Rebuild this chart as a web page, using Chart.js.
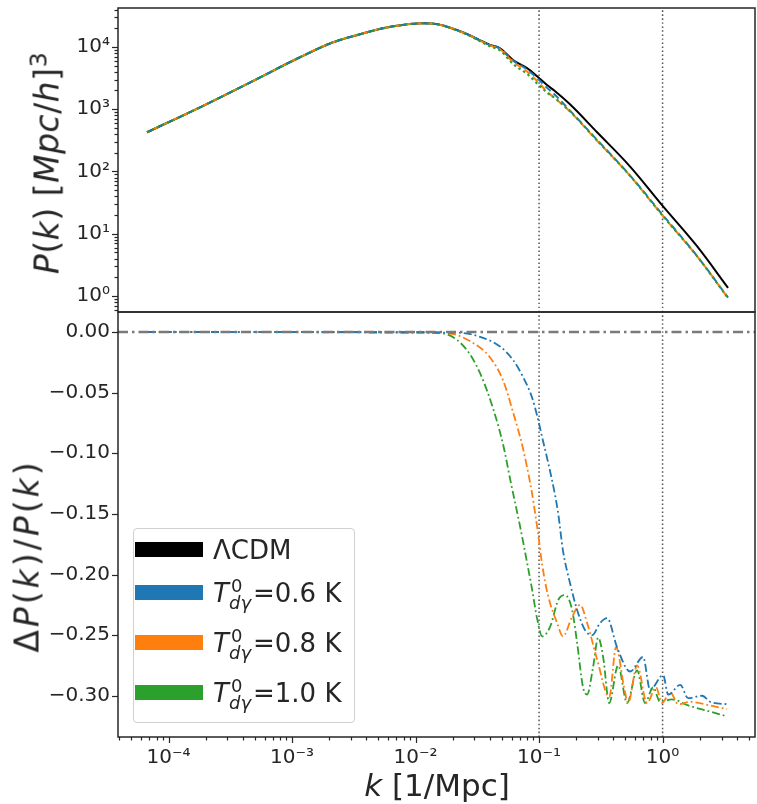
<!DOCTYPE html>
<html>
<head>
<meta charset="utf-8">
<title>P(k) and relative difference</title>
<script src="https://cdn.jsdelivr.net/npm/chart.js@4.4.1/dist/chart.umd.min.js"></script>
<style>
  body { margin: 0; background: #fff; }
  #fig { position: relative; width: 757px; height: 804px; overflow: hidden; font-family: "DejaVu Sans", sans-serif; color: #262626; }
  #fig canvas { position: absolute; left: 0; top: 0; }
  .t { position: absolute; white-space: nowrap; line-height: 1; }
  .rot { transform: translate(-50%, -50%) rotate(-90deg); }
  sup { font-size: 0.72em; line-height: 0; vertical-align: 0.5em; }
  #legend { position: absolute; left: 133px; top: 528px; width: 220px; height: 193px; border: 1px solid #d0d0d0; border-radius: 4px; background: rgba(255,255,255,0.8); z-index: 2; }
  .sw { position: absolute; left: 1px; width: 68px; height: 15px; }
</style>
</head>
<body>
<div id="fig">
  <canvas id="top" width="757" height="804"></canvas>
  <canvas id="bot" width="757" height="804"></canvas>
  <div class="t rot" style="left:47px; top:163px; font-size:33px; letter-spacing:0.5px;"><i>P</i>(<i>k</i>) [<i>Mpc</i>/<i>h</i>]<sup>3</sup></div>
  <div class="t rot" style="left:27px; top:556px; font-size:33px; letter-spacing:3px;">Δ<i>P</i>(<i>k</i>)/<i>P</i>(<i>k</i>)</div>
  <div class="t" style="left:437px; top:770px; font-size:31px; transform: translateX(-50%);"><i>k</i> [1/Mpc]</div>
  <div id="legend"></div>
</div>
<script>
// wavenumbers (1/Mpc) and power spectra for the top panel
const kTop = [6.7e-5, 1.8e-4, 4.6e-4, 1.16e-3, 2.15e-3, 4.05e-3, 5.2e-3, 7.5e-3, 0.0113, 0.015, 0.018, 0.0252,
  0.0333, 0.0401, 0.0483, 0.0615, 0.0799, 0.0963, 0.116, 0.135, 0.178, 0.295, 0.546, 1.01, 1.90, 3.39];
const pLcdm = [427, 1075, 2710, 6840, 11900, 17200, 19600, 22300, 24000, 23200, 21100, 16600,
  12800, 10800, 9530, 6170, 4570, 3390, 2450, 1950, 1200, 427, 120, 27.5, 6.3, 1.35];
const pT06 = [427, 1075, 2710, 6840, 11900, 17200, 19600, 22300, 24000, 23200, 21100, 16570,
  12750, 10710, 9420, 6030, 4370, 3160, 2205, 1690, 950, 322, 86, 19.7, 4.4, 0.94];
const pT08 = [427, 1075, 2710, 6840, 11900, 17200, 19600, 22300, 24000, 23200, 21100, 16500,
  12670, 10580, 9200, 5760, 4050, 2850, 1920, 1490, 918, 312, 85, 19.1, 4.37, 0.93];
const pT10 = [427, 1075, 2710, 6840, 11900, 17200, 19600, 22300, 24000, 23200, 21080, 16300,
  12370, 10200, 8770, 5320, 3680, 2590, 1845, 1500, 926, 316, 85, 19.1, 4.35, 0.92];

// relative difference dP/P, bottom panel
const kT06 = [6.8e-5, 0.0217, 0.0333, 0.0483, 0.0615, 0.0741, 0.0877, 0.0981, 0.106, 0.118, 0.135, 0.143,
  0.156, 0.178, 0.203, 0.236, 0.269, 0.312, 0.356, 0.428, 0.546, 0.695, 0.792, 1.01, 1.11, 1.39, 1.61, 2.09, 2.43, 3.32];
const dT06 = [0, -0.0005, -0.004, -0.012, -0.023, -0.037, -0.054, -0.072, -0.087, -0.107, -0.135, -0.150,
  -0.180, -0.207, -0.229, -0.246, -0.250, -0.240, -0.236, -0.260, -0.280, -0.268, -0.295, -0.283, -0.299, -0.291, -0.302, -0.300, -0.305, -0.307];
const kT08 = [6.8e-5, 0.018, 0.0292, 0.0401, 0.0512, 0.0615, 0.0741, 0.0877, 0.0928, 0.0981, 0.106, 0.118,
  0.140, 0.156, 0.185, 0.215, 0.245, 0.295, 0.37, 0.42, 0.488, 0.526, 0.622, 0.748, 0.885, 0.991, 1.15, 1.34, 1.67, 2.43, 3.32];
const dT08 = [0, -0.001, -0.009, -0.021, -0.040, -0.066, -0.096, -0.133, -0.149, -0.166, -0.192, -0.217,
  -0.240, -0.251, -0.235, -0.225, -0.240, -0.270, -0.301, -0.260, -0.293, -0.306, -0.275, -0.306, -0.293, -0.306, -0.297, -0.307, -0.305, -0.308, -0.311];
const kT10 = [6.8e-5, 0.0115, 0.018, 0.0261, 0.0333, 0.0424, 0.0512, 0.0593, 0.0701, 0.0799, 0.0877,
  0.0963, 0.106, 0.123, 0.143, 0.162, 0.185, 0.203, 0.227, 0.245, 0.274, 0.301, 0.330, 0.37, 0.436, 0.516,
  0.622, 0.721, 0.838, 0.954, 1.19, 1.61, 2.43, 3.32];
const dT10 = [0, 0, -0.002, -0.015, -0.034, -0.063, -0.093, -0.125, -0.160, -0.190, -0.212,
  -0.236, -0.251, -0.243, -0.221, -0.217, -0.229, -0.256, -0.293, -0.299, -0.276, -0.252, -0.268, -0.306, -0.275, -0.306,
  -0.279, -0.306, -0.293, -0.305, -0.303, -0.308, -0.313, -0.317];

// reference lines
const kMarks = [0.1, 1];

// axes
const kRange = [3.9e-5, 5.6];
const pRange = [0.553, 42300];
const dRange = [-0.334, 0.0165];
const kMajor = [1e-4, 1e-3, 1e-2, 1e-1, 1];
const kMajorLabels = ['10⁻⁴', '10⁻³', '10⁻²', '10⁻¹', '10⁰'];
const pMajor = [1, 10, 100, 1000, 10000];
const pMajorLabels = ['10⁰', '10¹', '10²', '10³', '10⁴'];
const dTicks = [-0.30, -0.25, -0.20, -0.15, -0.10, -0.05, 0.00];
const dTickLabels = ['−0.30', '−0.25', '−0.20', '−0.15', '−0.10', '−0.05', '0.00'];

const legendNames = ['ΛCDM', '0.6', '0.8', '1.0'];
const colors = { lcdm: '#000000', t06: '#1f77b4', t08: '#ff7f0e', t10: '#2ca02c' };

Chart.defaults.font.family = '"DejaVu Sans", sans-serif';
Chart.defaults.color = '#262626';

const pts = (xs, ys) => xs.map((x, i) => ({ x, y: ys[i] }));

// log tick list: labelled majors plus unlabelled 2..9 minors inside the range
function logTicks(range, majors, labels) {
  const out = [];
  const lo = Math.floor(Math.log10(range[0])), hi = Math.ceil(Math.log10(range[1]));
  for (let e = lo; e <= hi; e++) {
    for (let m = 1; m <= 9; m++) {
      const v = Number((m * Math.pow(10, e)).toPrecision(6));
      if (v < range[0] || v > range[1]) continue;
      const j = majors.findIndex(q => Math.abs(q - v) / q < 1e-9);
      out.push({ value: v, lab: j >= 0 ? labels[j] : '', maj: j >= 0 });
    }
  }
  return out;
}

// box and outward tick marks like matplotlib
const frame = {
  id: 'frame',
  afterDraw(chart, args, opts) {
    const { ctx, chartArea: a } = chart;
    ctx.save();
    ctx.strokeStyle = '#262626';
    ctx.lineWidth = 1.2;
    for (const id of opts.axes || []) {
      const s = chart.scales[id];
      for (const t of s.ticks) {
        const len = t.maj ? 6 : 3.5;
        const p = Math.round(s.getPixelForValue(t.value)) + 0.5;
        ctx.beginPath();
        if (s.isHorizontal()) { ctx.moveTo(p, a.bottom); ctx.lineTo(p, a.bottom + len); }
        else { ctx.moveTo(a.left, p); ctx.lineTo(a.left - len, p); }
        ctx.stroke();
      }
    }
    ctx.lineWidth = 1.5;
    ctx.strokeRect(a.left, a.top, a.right - a.left, a.bottom - a.top);
    ctx.restore();
  }
};

const vline = (k, range) => ({
  data: [{ x: k, y: range[0] }, { x: k, y: range[1] }],
  borderColor: '#555', borderWidth: 1.5, borderDash: [1.5, 2.5]
});

const base = {
  responsive: false, animation: false, devicePixelRatio: 1,
  elements: { point: { radius: 0 }, line: { cubicInterpolationMode: 'monotone', fill: false } },
  events: []
};

new Chart(document.getElementById('top'), {
  type: 'line',
  data: {
    datasets: [
      { data: pts(kTop, pT10), borderColor: colors.t10, borderWidth: 2, borderDash: [2.5, 3] },
      { data: pts(kTop, pT08), borderColor: colors.t08, borderWidth: 2, borderDash: [7, 4], borderDashOffset: 5 },
      { data: pts(kTop, pT06), borderColor: colors.t06, borderWidth: 2, borderDash: [7, 4] },
      { data: pts(kTop, pLcdm), borderColor: colors.lcdm, borderWidth: 2 },
      vline(kMarks[0], pRange), vline(kMarks[1], pRange)
    ]
  },
  options: {
    ...base,
    layout: { padding: { left: 0, top: 8, right: 2, bottom: 804 - 312 } },
    plugins: { legend: { display: false }, tooltip: { enabled: false }, frame: { axes: ['y'] } },
    scales: {
      x: { type: 'logarithmic', min: kRange[0], max: kRange[1], display: false },
      y: {
        type: 'logarithmic', min: pRange[0], max: pRange[1],
        grid: { display: false, drawTicks: false }, border: { display: false },
        afterBuildTicks: s => { s.ticks = logTicks(pRange, pMajor, pMajorLabels); },
        ticks: { autoSkip: false, padding: 8, font: { size: 20 }, callback: (v, i, t) => t[i].lab },
        afterFit: s => { s.width = 118; s.paddingTop = 0; s.paddingBottom = 0; }
      }
    }
  },
  plugins: [frame]
});

new Chart(document.getElementById('bot'), {
  type: 'line',
  data: {
    datasets: [
      { data: [{ x: kRange[0], y: 0 }, { x: kRange[1], y: 0 }], borderColor: '#7a7a7a', borderWidth: 2.5, borderDash: [10, 4, 2.5, 4] },
      { data: pts(kT06, dT06), borderColor: colors.t06, borderWidth: 1.8, borderDash: [8, 3, 1.8, 3] },
      { data: pts(kT08, dT08), borderColor: colors.t08, borderWidth: 1.8, borderDash: [8, 3, 1.8, 3] },
      { data: pts(kT10, dT10), borderColor: colors.t10, borderWidth: 1.8, borderDash: [8, 3, 1.8, 3] },
      vline(kMarks[0], dRange), vline(kMarks[1], dRange)
    ]
  },
  options: {
    ...base,
    layout: { padding: { left: 0, top: 312, right: 2, bottom: 0 } },
    plugins: { legend: { display: false }, tooltip: { enabled: false }, frame: { axes: ['x', 'y'] } },
    scales: {
      x: {
        type: 'logarithmic', min: kRange[0], max: kRange[1],
        grid: { display: false, drawTicks: false }, border: { display: false },
        afterBuildTicks: s => { s.ticks = logTicks(kRange, kMajor, kMajorLabels); },
        ticks: { autoSkip: false, maxRotation: 0, padding: 9, font: { size: 20 }, callback: (v, i, t) => t[i].lab },
        afterFit: s => { s.height = 804 - 737; s.paddingLeft = 0; s.paddingRight = 0; }
      },
      y: {
        type: 'linear', min: dRange[0], max: dRange[1],
        grid: { display: false, drawTicks: false }, border: { display: false },
        afterBuildTicks: s => { s.ticks = dTicks.map((v, i) => ({ value: v, lab: dTickLabels[i], maj: true })); },
        ticks: { autoSkip: false, padding: 8, font: { size: 20 }, callback: (v, i, t) => t[i].lab },
        afterFit: s => { s.width = 118; s.paddingTop = 0; s.paddingBottom = 0; }
      }
    }
  },
  plugins: [frame]
});

// legend with mathtext-like labels
const leg = document.getElementById('legend');
const legColors = [colors.lcdm, colors.t06, colors.t08, colors.t10];
const swTop = [13, 56, 106, 156];
const baseLine = [30, 73, 123, 173];
function put(html, left, baseline, size) {
  const d = document.createElement('div');
  d.className = 't';
  d.style.left = left + 'px';
  d.style.top = (baseline - 0.846 * size) + 'px';
  d.style.fontSize = size + 'px';
  d.innerHTML = html;
  leg.appendChild(d);
}
legendNames.forEach((name, i) => {
  const sw = document.createElement('div');
  sw.className = 'sw';
  sw.style.top = swTop[i] + 'px';
  sw.style.background = legColors[i];
  leg.appendChild(sw);
  const b = baseLine[i];
  if (i === 0) { put(name, 79, b, 26); return; }
  put('<i>T</i>', 79, b, 26);
  put('0', 97, b - 10, 18);
  put('<i>dγ</i>', 95, b + 7, 18);
  put('=' + name + ' K', 119, b, 26);
});
</script>
</body>
</html>
